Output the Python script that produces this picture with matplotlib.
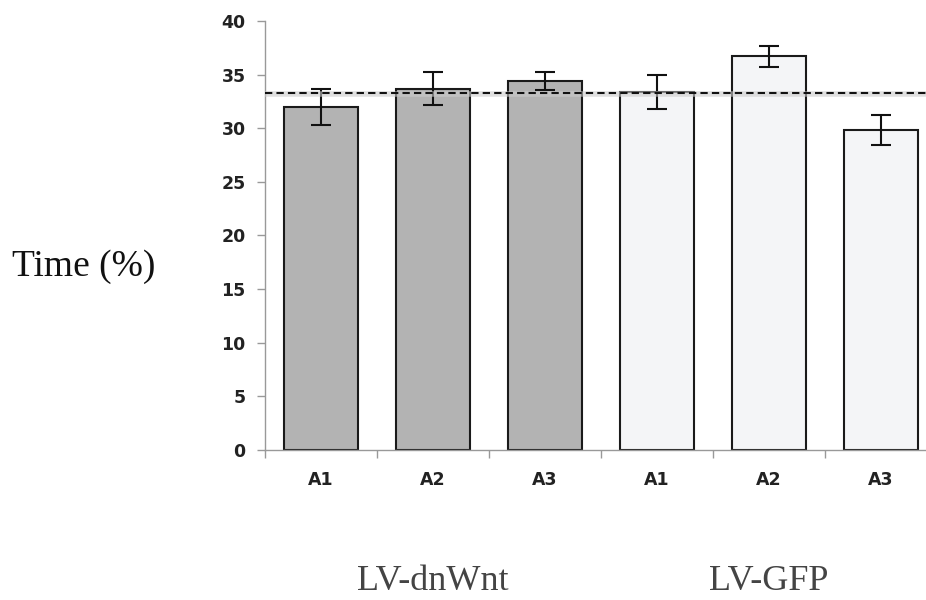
import numpy as np
import matplotlib.pyplot as plt

# values
labels = ['A1', 'A2', 'A3', 'A1', 'A2', 'A3']
groups = ['LV-dnWnt', 'LV-GFP']
values = [32.0, 33.7, 34.4, 33.4, 36.7, 29.8]
errors = [1.7, 1.55, 0.8, 1.6, 0.95, 1.4]
colors = ['#b3b3b3'] * 3 + ['#f4f5f7'] * 3
chance = 33.33

fig = plt.figure(figsize=(9.26, 6), dpi=100)
# axis runs a little past the right edge of the figure, as in the reference
ax = fig.add_axes([265 / 926, 150 / 600, 672 / 926, 429 / 600])

x = np.arange(len(values))
ax.bar(x, values, width=0.66, color=colors, edgecolor='#1a1a1a', linewidth=1.5, zorder=2)
ax.errorbar(x, values, yerr=errors, fmt='none', ecolor='#111111', elinewidth=1.5,
            capsize=7, capthick=1.5, zorder=3)

# chance level line with a soft shadow
ax.axhline(chance - 0.12, color='#cccccc', lw=4, alpha=0.6, zorder=3.5)
ax.axhline(chance, color='#111111', lw=1.5, ls=(0, (3.5, 2)), zorder=4)

ax.set_xlim(-0.5, len(values) - 0.5)
ax.set_ylim(0, 40)
ax.set_yticks(range(0, 41, 5))

tick_font = dict(family=['Liberation Sans Narrow', 'DejaVu Sans'], weight='bold', size=12.5)
ax.set_yticklabels([str(v) for v in range(0, 41, 5)], **tick_font, color='#222222')

# major ticks between bars, labels at bar centres
ax.set_xticks(np.arange(-0.5, len(values), 1.0))
ax.set_xticklabels([])
ax.set_xticks(x, minor=True)
ax.set_xticklabels(labels, minor=True, **tick_font, color='#222222')
ax.tick_params(axis='x', which='minor', length=0, pad=15)
ax.tick_params(axis='x', which='major', length=6, color='#999999', width=1)
ax.tick_params(axis='y', length=6, color='#999999', width=1, pad=8)

for s in ['top', 'right']:
    ax.spines[s].set_visible(False)
for s in ['left', 'bottom']:
    ax.spines[s].set_color('#999999')
    ax.spines[s].set_linewidth(1)

fig.text(84 / 926, 1 - 267 / 600, 'Time (%)', ha='center', va='center', color='#111111',
         family=['Liberation Serif', 'DejaVu Serif'], size=27)
for gi, g in enumerate(groups):
    ax.text(1 + 3 * gi, -0.327, g, ha='center', va='baseline',
            transform=ax.get_xaxis_transform(), color='#444444',
            family=['Liberation Serif', 'DejaVu Serif'], size=26)

fig.savefig('out.png', dpi=100)
